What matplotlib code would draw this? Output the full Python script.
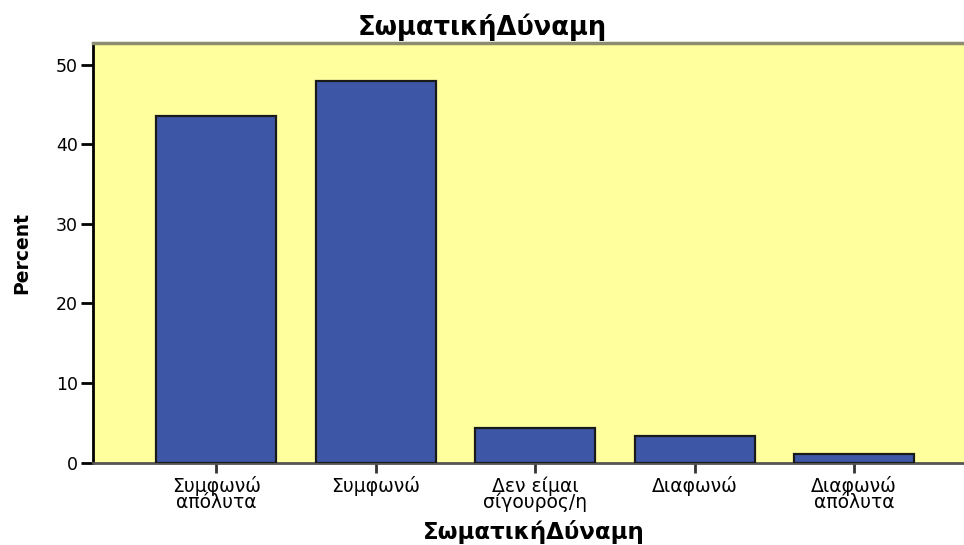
import matplotlib.pyplot as plt

categories = ["Συμφωνώ\nαπόλυτα", "Συμφωνώ", "Δεν είμαι\nσίγουρος/η", "Διαφωνώ", "Διαφωνώ\nαπόλυτα"]
percent = [43.5, 47.9, 4.4, 3.3, 1.1]
yticks = [0, 10, 20, 30, 40, 50]

plt.rcParams["font.family"] = ["DejaVu Sans"]

fig = plt.figure(figsize=(9.64, 5.45), dpi=100)
ax = fig.add_axes([93 / 964, 1 - 462.5 / 545, 1 - 93 / 964 + 0.01, (462.5 - 42.5) / 545])
ax.set_facecolor("#FFFF9E")

x = list(range(len(categories)))
ax.bar(x, percent, width=0.753, color="#3D56A6", edgecolor="#1a1a1a", linewidth=1.6, zorder=3)

ax.set_xlim(-0.772, 4.75)
ax.set_ylim(0, 52.8)
ax.set_yticks(yticks)
ax.set_xticks(x)
ax.set_xticklabels(categories, fontsize=13.5, linespacing=0.78)
ax.tick_params(axis="y", length=9, width=2, labelsize=12.5, pad=2)
ax.tick_params(axis="x", length=7, width=2, pad=3, color="#333333")

ax.spines["left"].set_linewidth(2)
ax.spines["bottom"].set_linewidth(2)
ax.spines["bottom"].set_color("#555555")
ax.spines["top"].set_linewidth(2.5)
ax.spines["top"].set_color("#8c8c6e")
ax.spines["right"].set_visible(False)

ax.set_ylabel("Percent", fontsize=13.5, fontweight="bold")
ax.yaxis.set_label_coords(-0.07, 0.5)
ax.set_xlabel("ΣωματικήΔύναμη", fontsize=16.5, fontweight="bold", va="top")
ax.xaxis.set_label_coords(0.5, -0.137)
fig.text(0.5, 1 - 35 / 545, "ΣωματικήΔύναμη", ha="center", va="baseline",
         fontsize=18.5, fontweight="bold")

fig.savefig("out.png", dpi=100)
